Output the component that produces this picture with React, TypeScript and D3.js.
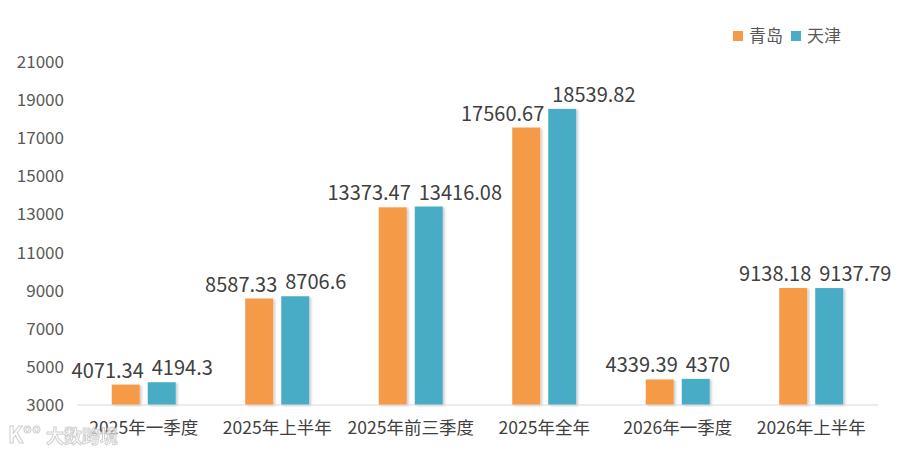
import React, { useRef, useEffect } from 'react';
import * as d3 from 'd3';

const categories = ['2025年一季度', '2025年上半年', '2025年前三季度', '2025年全年', '2026年一季度', '2026年上半年'];
const qingdao = [4071.34, 8587.33, 13373.47, 17560.67, 4339.39, 9138.18];
const tianjin = [4194.3, 8706.6, 13416.08, 18539.82, 4370, 9137.79];
const yTicks = [3000, 5000, 7000, 9000, 11000, 13000, 15000, 17000, 19000, 21000];
const seriesNames = ['青岛', '天津'];
const colors = ['#F59A47', '#4AACC6'];

const width = 900;
const height = 454;
const margin = { top: 62, right: 22, bottom: 49, left: 77 };
const font = '"Noto Sans CJK SC", "Noto Sans", sans-serif';

const App = () => {
  const ref = useRef<SVGSVGElement | null>(null);

  useEffect(() => {
    if (!ref.current) return;
    const svg = d3.select(ref.current);
    svg.selectAll('*').remove();

    const defs = svg.append('defs');
    defs.append('filter')
      .attr('id', 'shadow')
      .attr('x', '-20%').attr('y', '-5%').attr('width', '150%').attr('height', '110%')
      .append('feDropShadow')
      .attr('dx', 2).attr('dy', 1).attr('stdDeviation', 1.2)
      .attr('flood-color', '#000').attr('flood-opacity', 0.18);

    const x = d3.scaleBand()
      .domain(categories)
      .range([margin.left, width - margin.right]);

    const y = d3.scaleLinear()
      .domain([3000, 21000])
      .range([height - margin.bottom, margin.top]);

    const barW = 28;
    const gap = 8;

    // y tick labels (no axis line, no grid)
    svg.append('g')
      .selectAll('text')
      .data(yTicks)
      .enter()
      .append('text')
      .attr('x', 64)
      .attr('y', d => y(d))
      .attr('dy', '0.35em')
      .attr('text-anchor', 'end')
      .attr('font-family', font)
      .attr('font-size', '17px')
      .attr('fill', '#595959')
      .text(d => d);

    const series = [qingdao, tianjin];

    series.forEach((vals, si) => {
      const bx = (c: string) => {
        const center = x(c)! + x.bandwidth() / 2;
        return si === 0 ? center - gap / 2 - barW : center + gap / 2;
      };
      svg.append('g')
        .selectAll('rect')
        .data(vals)
        .enter()
        .append('rect')
        .attr('x', (_, i) => bx(categories[i]))
        .attr('y', d => y(d))
        .attr('width', barW)
        .attr('height', d => y(3000) - y(d))
        .attr('fill', colors[si])
        .attr('filter', 'url(#shadow)');

      svg.append('g')
        .selectAll('text')
        .data(vals)
        .enter()
        .append('text')
        .attr('x', (_, i) => si === 0 ? bx(categories[i]) + barW + 4 : bx(categories[i]) + 4)
        .attr('y', d => y(d) - 7)
        .attr('text-anchor', si === 0 ? 'end' : 'start')
        .attr('font-family', font)
        .attr('font-size', '20px')
        .attr('fill', '#404040')
        .text(d => d);
    });

    // x axis line
    svg.append('line')
      .attr('x1', margin.left)
      .attr('x2', width - margin.right)
      .attr('y1', y(3000))
      .attr('y2', y(3000))
      .attr('stroke', '#d9d9d9')
      .attr('stroke-width', 1.2);

    svg.append('g')
      .selectAll('text')
      .data(categories)
      .enter()
      .append('text')
      .attr('x', d => x(d)! + x.bandwidth() / 2)
      .attr('y', 434)
      .attr('text-anchor', 'middle')
      .attr('font-family', font)
      .attr('font-size', '17.5px')
      .attr('fill', '#404040')
      .text(d => d);

    // legend
    const legend = svg.append('g');
    const lx = [733, 791];
    seriesNames.forEach((name, i) => {
      legend.append('rect')
        .attr('x', lx[i]).attr('y', 31)
        .attr('width', 10).attr('height', 10)
        .attr('fill', colors[i]);
      legend.append('text')
        .attr('x', lx[i] + 16).attr('y', 36)
        .attr('dy', '0.35em')
        .attr('font-family', font)
        .attr('font-size', '17px')
        .attr('fill', '#595959')
        .text(name);
    });

    // watermark
    const wm = svg.append('g').attr('opacity', 0.85);
    wm.append('text')
      .attr('x', 8).attr('y', 443)
      .attr('font-family', font)
      .attr('font-size', '22px')
      .attr('font-weight', 'bold')
      .attr('fill', '#fff')
      .attr('stroke', '#c8c8c8')
      .attr('stroke-width', 1)
      .text('K°°');
    wm.append('text')
      .attr('x', 46).attr('y', 443)
      .attr('font-family', font)
      .attr('font-size', '18px')
      .attr('font-weight', 'bold')
      .attr('fill', '#fff')
      .attr('stroke', '#c8c8c8')
      .attr('stroke-width', 1)
      .text('大数跨境');
  }, []);

  return (
    <svg
      ref={ref}
      width={width}
      height={height}
      style={{ position: 'absolute', left: 0, top: 0, background: '#fff' }}
    ></svg>
  );
};

export default App;
